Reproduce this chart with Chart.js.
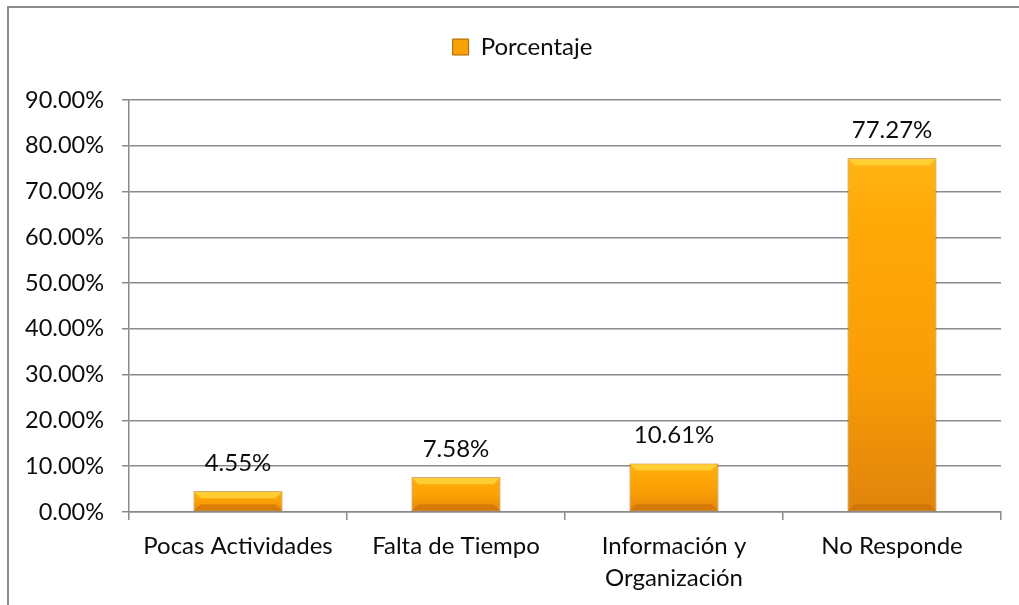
<!DOCTYPE html>
<html>
<head>
<meta charset="utf-8">
<script src="https://cdn.jsdelivr.net/npm/chart.js@4.4.1/dist/chart.umd.min.js"></script>
<style>
    html, body { margin: 0; padding: 0; background: #fff; }
    #wrap { width: 1019px; height: 605px; }
</style>
</head>
<body>
<div id="wrap"><canvas id="barChart" width="1019" height="605"></canvas></div>
<script>
// chart data
const categories = ['Pocas Actividades', 'Falta de Tiempo', ['Información y', 'Organización'], 'No Responde'];
const porcentaje = [4.55, 7.58, 10.61, 77.27];
const seriesName = 'Porcentaje';
const yMin = 0;
const yMax = 90;
const yStep = 10;

const FONT = 'Lato, "Open Sans", sans-serif';
const GRID = '#8a8a8a';
const TEXT = '#0d0d0d';

function formatPct(value) {
    return Number(value).toFixed(2) + '%';
}

function barGradient(context) {
    const chart = context.chart;
    const y = chart.scales && chart.scales.y;
    if (!y || !chart.chartArea || context.parsed === undefined) {
        return '#f7a104';
    }
    const top = y.getPixelForValue(context.parsed.y);
    const bottom = y.getPixelForValue(0);
    const g = chart.ctx.createLinearGradient(0, top, 0, bottom);
    g.addColorStop(0, '#ffb514');
    g.addColorStop(0.15, '#ffaa08');
    g.addColorStop(0.6, '#fa9d05');
    g.addColorStop(1, '#e0840c');
    return g;
}

// frame around the whole chart (left and top edges visible)
const framePlugin = {
    id: 'frame',
    beforeLayout(chart) {
        // legend block reaches down to the plot top
        const lg = chart.legend;
        if (lg && !lg._fixedHeight) {
            const fit = lg.fit;
            lg.fit = function() {
                fit.call(this);
                this.height = 84;
            };
            lg._fixedHeight = true;
        }
    },
    afterLayout(chart) {
        const lg = chart.legend;
        if (lg) {
            lg.left += 22;
            lg.right += 22;
        }
    },
    beforeDraw(chart) {
        const ctx = chart.ctx;
        ctx.save();
        ctx.strokeStyle = '#8c8c8c';
        ctx.lineWidth = 2;
        ctx.beginPath();
        ctx.moveTo(8, chart.height);
        ctx.lineTo(8, 7);
        ctx.lineTo(chart.width, 7);
        ctx.stroke();
        ctx.restore();
    }
};

// bevel highlight + value labels
const barLabelPlugin = {
    id: 'barLabels',
    afterDatasetsDraw(chart) {
        const ctx = chart.ctx;
        const meta = chart.getDatasetMeta(0);
        ctx.save();
        meta.data.forEach(function(bar, i) {
            const left = bar.x - bar.width / 2;
            const right = bar.x + bar.width / 2;
            const top = bar.y;
            const bottom = bar.base;
            const b = Math.min(6, (bottom - top) / 3);
            // top bevel
            ctx.fillStyle = 'rgba(255, 214, 60, 0.8)';
            ctx.beginPath();
            ctx.moveTo(left + 1, top + 1);
            ctx.lineTo(right - 1, top + 1);
            ctx.lineTo(right - 1 - b, top + 1 + b);
            ctx.lineTo(left + 1 + b, top + 1 + b);
            ctx.closePath();
            ctx.fill();
            // bottom bevel
            ctx.fillStyle = 'rgba(190, 100, 0, 0.45)';
            ctx.beginPath();
            ctx.moveTo(left + 1, bottom - 1);
            ctx.lineTo(right - 1, bottom - 1);
            ctx.lineTo(right - 1 - b, bottom - 1 - b);
            ctx.lineTo(left + 1 + b, bottom - 1 - b);
            ctx.closePath();
            ctx.fill();
            // value label
            ctx.fillStyle = TEXT;
            ctx.font = '24px ' + FONT;
            ctx.textAlign = 'center';
            ctx.textBaseline = 'middle';
            ctx.fillText(formatPct(porcentaje[i]), bar.x, top - 28);
        });
        ctx.restore();
    }
};

new Chart(document.getElementById('barChart'), {
    type: 'bar',
    data: {
        labels: categories,
        datasets: [{
            label: seriesName,
            data: porcentaje,
            backgroundColor: barGradient,
            borderColor: '#b66c00',
            borderWidth: 1,
            borderSkipped: false,
            categoryPercentage: 1,
            barPercentage: 0.408
        }]
    },
    options: {
        responsive: false,
        animation: false,
        devicePixelRatio: 1,
        layout: {
            padding: { top: 16, right: 18, left: 0, bottom: 0 }
        },
        plugins: {
            legend: {
                position: 'top',
                labels: {
                    color: TEXT,
                    font: { family: FONT, size: 24 },
                    boxWidth: 16,
                    boxHeight: 16,
                    padding: 19,
                    generateLabels: function(chart) {
                        const items = Chart.defaults.plugins.legend.labels.generateLabels(chart);
                        items.forEach(function(item) {
                            item.fillStyle = '#f7a104';
                            item.strokeStyle = '#a86400';
                            item.lineWidth = 1;
                        });
                        return items;
                    }
                }
            },
            tooltip: { enabled: false }
        },
        scales: {
            y: {
                min: yMin,
                max: yMax,
                ticks: {
                    stepSize: yStep,
                    color: TEXT,
                    font: { family: FONT, size: 23.5 },
                    padding: 18,
                    callback: function(value) {
                        return formatPct(value);
                    }
                },
                grid: {
                    color: GRID,
                    lineWidth: 1.5,
                    tickLength: 7,
                    drawTicks: true
                },
                border: { color: GRID, width: 1.5 },
                afterFit: function(scale) {
                    scale.width = 129;
                }
            },
            x: {
                ticks: {
                    color: TEXT,
                    font: { family: FONT, size: 24, lineHeight: 1.3 },
                    padding: 11,
                    maxRotation: 0,
                    autoSkip: false
                },
                grid: {
                    color: GRID,
                    lineWidth: 1.5,
                    drawOnChartArea: false,
                    drawTicks: true,
                    tickLength: 8,
                    offset: true
                },
                border: { color: GRID, width: 1.5 },
                afterFit: function(scale) {
                    scale.height = 93;
                }
            }
        }
    },
    plugins: [framePlugin, barLabelPlugin]
});
</script>
</body>
</html>
